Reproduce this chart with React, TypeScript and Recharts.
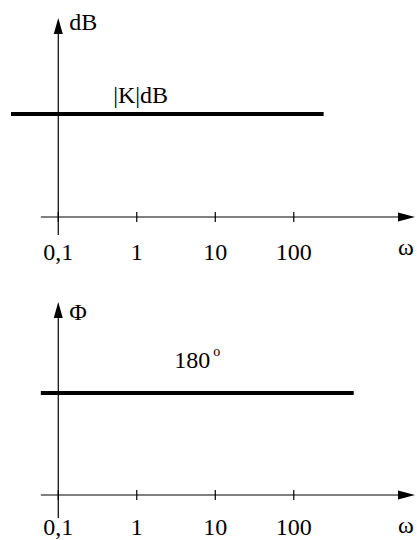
import React from "react";
import { LineChart, Line, XAxis, YAxis, ReferenceLine, ReferenceDot } from "recharts";

// frequency axis (log scale), decimal comma labels
const OMEGA_TICKS = [0.1, 1, 10, 100];
const OMEGA_TICK_LABELS = ["0,1", "1", "10", "100"];
const OMEGA_DOMAIN = [0.025, 3500];
const OMEGA_AXIS_START = 0.06;
const OMEGA_AXIS_END = 3500;

// magnitude: flat at |K| dB
const K_DB = 20;
const magnitudeOmega = [0.025, 240];
const magnitudeValues = [K_DB, K_DB];

// phase: flat at 180 degrees
const PHASE_DEG = 180;
const phaseOmega = [0.06, 580];
const phaseValues = [PHASE_DEG, PHASE_DEG];

const FONT = "'Liberation Serif', 'Times New Roman', serif";
const FONT_SIZE = 24;
const INK = "#000";

const toRows = (ws: number[], vs: number[]) => ws.map((w, i) => ({ w, v: vs[i] }));

const omegaTick = (labelDy: number) => (props: any) => {
  const { x, y, payload } = props;
  const label = OMEGA_TICK_LABELS[OMEGA_TICKS.indexOf(payload.value)];
  return (
    <g>
      <line x1={x} y1={y - 5} x2={x} y2={y + 5} stroke={INK} strokeWidth={1.2} />
      <text x={x} y={y + labelDy} textAnchor="middle" fontFamily={FONT} fontSize={FONT_SIZE} fill={INK}>
        {label}
      </text>
    </g>
  );
};

const verticalAxis = (label: string, labelDy: number) => (p: any) => {
  const x = p.x1;
  const yTop = Math.min(p.y1, p.y2);
  const yBot = Math.max(p.y1, p.y2);
  return (
    <g>
      <line x1={x} y1={yBot} x2={x} y2={yTop + 10} stroke={INK} strokeWidth={1.2} />
      <polygon points={`${x},${yTop} ${x - 4.5},${yTop + 16} ${x + 4.5},${yTop + 16}`} fill={INK} />
      <text x={x + 11} y={yTop + labelDy} fontFamily={FONT} fontSize={FONT_SIZE} fill={INK}>
        {label}
      </text>
    </g>
  );
};

const horizontalAxis = (p: any) => {
  const y = p.y1;
  const xLeft = Math.min(p.x1, p.x2);
  const xRight = Math.max(p.x1, p.x2);
  return (
    <g>
      <line x1={xLeft} y1={y} x2={xRight - 10} y2={y} stroke={INK} strokeWidth={1.2} />
      <polygon points={`${xRight},${y} ${xRight - 17},${y - 4.5} ${xRight - 17},${y + 4.5}`} fill={INK} />
      <text x={xRight - 9} y={y + 38} textAnchor="middle" fontFamily={FONT} fontSize={FONT_SIZE} fill={INK}>
        ω
      </text>
    </g>
  );
};

type PanelProps = {
  rows: { w: number; v: number }[];
  yDomain: [number, number];
  yBelow: number;
  marginTop: number;
  marginBottom: number;
  tickLabelDy: number;
  axisLabel: string;
  axisLabelDy: number;
  levelAt: number;
  levelDy: number;
  levelText: React.ReactNode;
};

function BodePanel(props: PanelProps) {
  const level = props.rows[0].v;
  const Tick = omegaTick(props.tickLabelDy);
  return (
    <LineChart
      width={417}
      height={270}
      data={props.rows}
      margin={{ top: props.marginTop, right: 2, left: 11, bottom: props.marginBottom }}
    >
      <XAxis
        dataKey="w"
        type="number"
        scale="log"
        domain={OMEGA_DOMAIN}
        allowDataOverflow
        ticks={OMEGA_TICKS}
        interval={0}
        height={40}
        axisLine={false}
        tickLine={false}
        tickSize={0}
        tickMargin={0}
        tick={Tick}
      />
      <YAxis hide type="number" domain={props.yDomain} allowDataOverflow />
      <ReferenceLine
        segment={[{ x: OMEGA_AXIS_START, y: 0 }, { x: OMEGA_AXIS_END, y: 0 }]}
        ifOverflow="visible"
        shape={horizontalAxis}
      />
      <ReferenceLine
        segment={[{ x: 0.1, y: props.yBelow }, { x: 0.1, y: props.yDomain[1] }]}
        ifOverflow="visible"
        shape={verticalAxis(props.axisLabel, props.axisLabelDy)}
      />
      <Line
        dataKey="v"
        stroke={INK}
        strokeWidth={4}
        dot={false}
        isAnimationActive={false}
      />
      <ReferenceDot
        x={props.levelAt}
        y={level}
        r={0}
        shape={(p: any) => (
          <text x={p.cx} y={p.cy + props.levelDy} fontFamily={FONT} fontSize={FONT_SIZE} fill={INK}>
            {props.levelText}
          </text>
        )}
      />
    </LineChart>
  );
}

export default function App() {
  return (
    <div style={{ position: "absolute", left: 0, top: 0, width: 417, height: 540, background: "#fff" }}>
      <BodePanel
        rows={toRows(magnitudeOmega, magnitudeValues)}
        yDomain={[0, 38.6]}
        yBelow={-3.5}
        marginTop={18}
        marginBottom={13}
        tickLabelDy={43}
        axisLabel="dB"
        axisLabelDy={12}
        levelAt={0.5}
        levelDy={-11}
        levelText="|K|dB"
      />
      <BodePanel
        rows={toRows(phaseOmega, phaseValues)}
        yDomain={[0, 340.6]}
        yBelow={-40.6}
        marginTop={32}
        marginBottom={5}
        tickLabelDy={40}
        axisLabel="Φ"
        axisLabelDy={18}
        levelAt={3}
        levelDy={-25}
        levelText={
          <>
            {PHASE_DEG}
            <tspan dx={3} dy={-12} fontSize={14}>o</tspan>
          </>
        }
      />
    </div>
  );
}
